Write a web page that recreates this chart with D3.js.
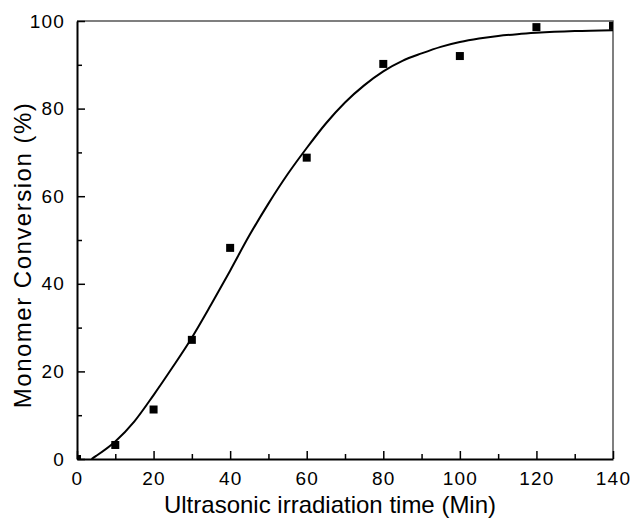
<!DOCTYPE html>
<html>
<head>
<meta charset="utf-8">
<script src="https://cdn.jsdelivr.net/npm/d3@7"></script>
<style>
  body { margin: 0; background: #fff; }
  text { font-family: "Liberation Sans", Arial, sans-serif; fill: #000; }
</style>
</head>
<body>
<div id="chart"></div>
<script>
// measured points
var timeMin = [0, 10, 20, 30, 40, 60, 80, 100, 120, 140];
var conversion = [0, 3.2, 11.3, 27.2, 48.2, 68.8, 90.2, 92.0, 98.6, 98.9];

// fitted curve
var fitTime = [3.8, 5, 10, 15, 20, 25, 30, 35, 40, 45, 50, 55, 60, 65, 70, 75, 80, 85, 90, 95, 100, 105, 110, 115, 120, 130, 140];
var fitConv = [0, 0.7, 4.0, 8.6, 14.6, 21.0, 27.7, 35.2, 43.0, 51.0, 58.3, 65.0, 71.0, 76.6, 81.4, 85.3, 88.5, 90.9, 92.6, 94.1, 95.2, 96.0, 96.6, 97.0, 97.3, 97.7, 97.9];

var xTicks = [0, 20, 40, 60, 80, 100, 120, 140];
var yTicks = [0, 20, 40, 60, 80, 100];

function drawChart() {
    var width = 632, height = 521;
    var mLeft = 77, mRight = 613, mTop = 21, mBottom = 459;

    var svg = d3.select("#chart").append("svg")
        .attr("width", width).attr("height", height);

    var x = d3.scaleLinear().domain([0, 140]).range([mLeft, mRight]);
    var y = d3.scaleLinear().domain([0, 100]).range([mBottom, mTop]);

    svg.append("defs").append("clipPath").attr("id", "plot")
        .append("rect")
        .attr("x", mLeft).attr("y", mTop)
        .attr("width", mRight - mLeft).attr("height", mBottom - mTop);

    // frame: top and right thin grey
    svg.append("path")
        .attr("d", "M" + mLeft + "," + mTop + "H" + mRight + "V" + mBottom)
        .attr("fill", "none").attr("stroke", "#555").attr("stroke-width", 1.5);

    // x axis
    svg.append("g").attr("transform", "translate(0," + mBottom + ")")
        .call(d3.axisBottom(x).tickValues(xTicks).tickSizeInner(-8).tickSizeOuter(0).tickPadding(13));
    svg.append("g").attr("transform", "translate(0," + mBottom + ")")
        .call(d3.axisBottom(x).tickValues(d3.range(10, 140, 20)).tickSize(-5).tickFormat(""))
        .call(function (g) { g.select(".domain").remove(); });

    // y axis
    svg.append("g").attr("transform", "translate(" + mLeft + ",0)")
        .call(d3.axisLeft(y).tickValues(yTicks).tickSizeInner(-8).tickSizeOuter(0).tickPadding(12));
    svg.append("g").attr("transform", "translate(" + mLeft + ",0)")
        .call(d3.axisLeft(y).tickValues(d3.range(10, 100, 20)).tickSize(-5).tickFormat(""))
        .call(function (g) { g.select(".domain").remove(); });

    svg.selectAll(".domain").attr("stroke", "#000").attr("stroke-width", 2);
    svg.selectAll(".tick line").attr("stroke", "#000").attr("stroke-width", 1.5);
    svg.selectAll(".tick text").style("font-family", "Liberation Sans, Arial, sans-serif")
        .style("font-size", "19px").style("letter-spacing", "1.2px").attr("fill", "#000");

    // curve
    var line = d3.line()
        .x(function (d, i) { return x(fitTime[i]); })
        .y(function (d) { return y(d); })
        .curve(d3.curveMonotoneX);
    svg.append("path").datum(fitConv)
        .attr("clip-path", "url(#plot)")
        .attr("d", line)
        .attr("fill", "none").attr("stroke", "#000").attr("stroke-width", 2);

    // points
    svg.append("g").attr("clip-path", "url(#plot)")
        .selectAll("rect").data(conversion).enter().append("rect")
        .attr("x", function (d, i) { return x(timeMin[i]) - 4; })
        .attr("y", function (d) { return y(d) - 4; })
        .attr("width", 8).attr("height", 8)
        .attr("fill", "#000");

    // titles
    svg.append("text")
        .attr("x", 330).attr("y", 513)
        .attr("text-anchor", "middle")
        .style("font-size", "24px")
        .text("Ultrasonic irradiation time (Min)");
    svg.append("text")
        .attr("transform", "translate(31,255) rotate(-90)")
        .attr("text-anchor", "middle")
        .style("font-size", "24px")
        .style("letter-spacing", "1.5px")
        .text("Monomer Conversion (%)");
}

drawChart();
</script>
</body>
</html>
